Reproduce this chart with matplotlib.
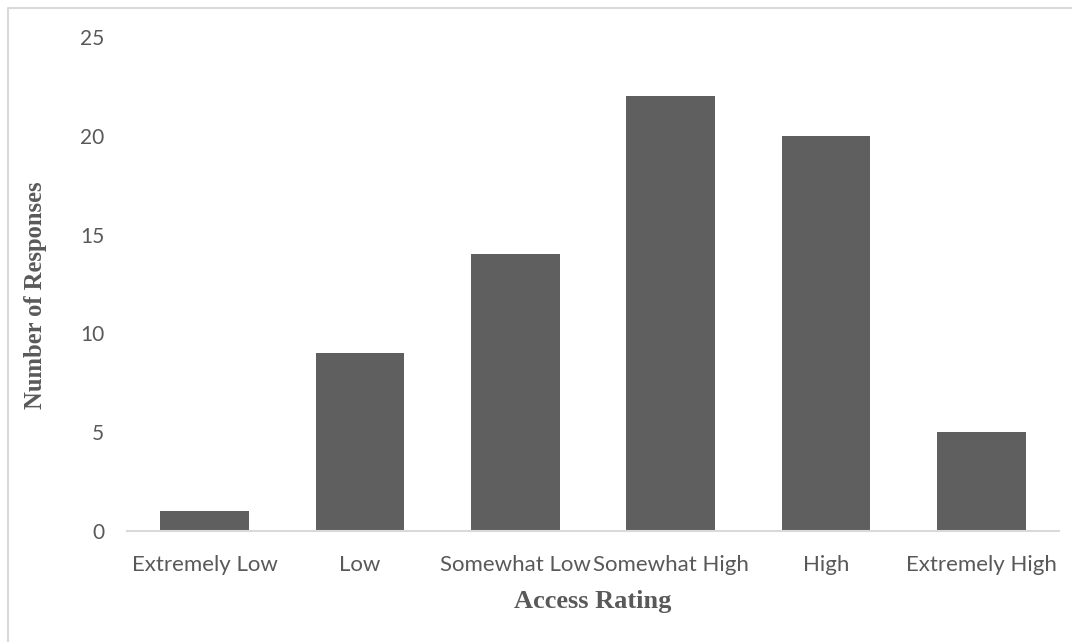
import matplotlib
matplotlib.use("Agg")
import matplotlib.pyplot as plt
from matplotlib.lines import Line2D

categories = ["Extremely Low", "Low", "Somewhat Low", "Somewhat High", "High", "Extremely High"]
responses = [1, 9, 14, 22, 20, 5]
y_ticks = [0, 5, 10, 15, 20, 25]

W, H = 1072, 642
fig = plt.figure(figsize=(W / 100, H / 100), dpi=100)
ax = fig.add_axes([127 / W, 1 - 531 / H, (1059 - 127) / W, (531 - 37) / H])

x = range(len(categories))
ax.bar(x, responses, width=0.57, color="#5f5f5f", zorder=2)

ax.set_xlim(-0.5, len(categories) - 0.5)
ax.set_ylim(0, 25)
ax.set_yticks(y_ticks)
ax.set_xticks(list(x))
ax.set_xticklabels(categories)

for side in ("top", "right", "left"):
    ax.spines[side].set_visible(False)
ax.spines["bottom"].set_color("#d9d9d9")
ax.spines["bottom"].set_linewidth(1.5)
ax.spines["bottom"].set_zorder(3)

ax.tick_params(axis="both", length=0, colors="#595959")
ax.tick_params(axis="x", pad=17, labelsize=16)
ax.tick_params(axis="y", pad=16.5, labelsize=15)
for lbl in ax.get_xticklabels() + ax.get_yticklabels():
    lbl.set_fontfamily("Lato")

ax.set_xlabel("Access Rating", fontfamily="Liberation Serif", fontweight="bold",
              fontsize=19, color="#595959")
ax.set_ylabel("Number of Responses", fontfamily="Liberation Serif", fontweight="bold",
              fontsize=17.7, color="#595959")
ax.xaxis.set_label_coords(0.5, (531 - 590) / 494)
ax.yaxis.set_label_coords((47 - 127) / 932, (531 - 295) / 494)

# light frame along the top and left edges
bx, by = 7.5 / W, 1 - 7.5 / H
fig.add_artist(Line2D([bx, bx, 1], [0, by, by], transform=fig.transFigure,
                      color="#d9d9d9", linewidth=1.5))

fig.savefig("out.png", dpi=100)
